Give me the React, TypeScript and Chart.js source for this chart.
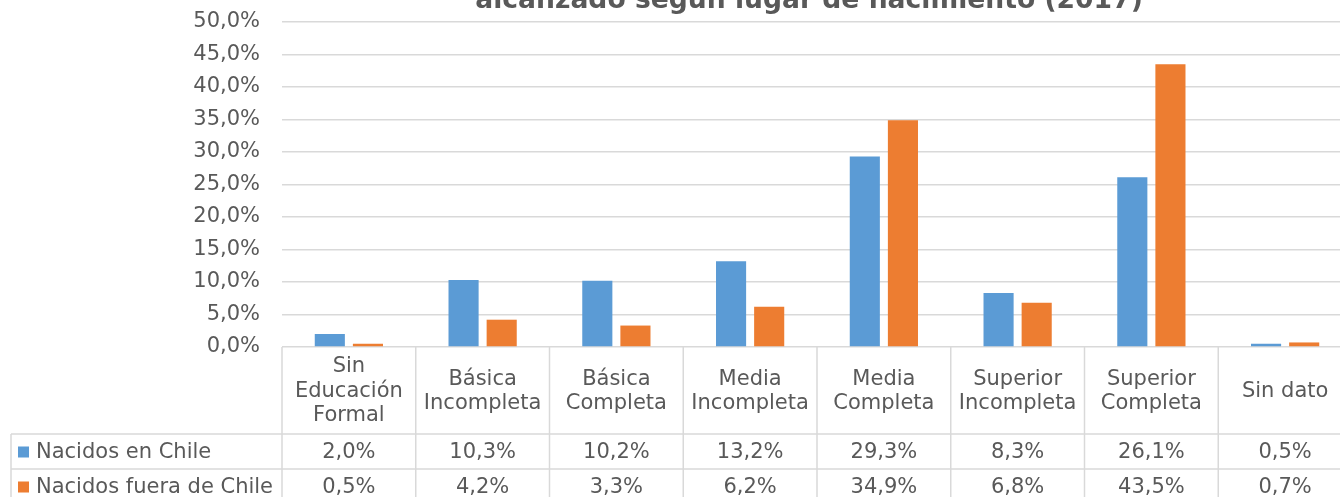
import React, { useEffect, useRef } from "react";
import { Chart, registerables } from "chart.js";

Chart.register(...registerables);

const categories: string[][] = [
  ["Sin", "Educación", "Formal"],
  ["Básica", "Incompleta"],
  ["Básica", "Completa"],
  ["Media", "Incompleta"],
  ["Media", "Completa"],
  ["Superior", "Incompleta"],
  ["Superior", "Completa"],
  ["Sin dato"],
];

const seriesNames = ["Nacidos en Chile", "Nacidos fuera de Chile"];
const nacidosChile = [2.0, 10.3, 10.2, 13.2, 29.3, 8.3, 26.1, 0.5];
const nacidosFuera = [0.5, 4.2, 3.3, 6.2, 34.9, 6.8, 43.5, 0.7];
const titleText = "alcanzado según lugar de nacimiento (2017)";

const BLUE = "#5B9BD5";
const ORANGE = "#ED7D31";
const TEXT = "#595959";
const GRID = "#d9d9d9";
const FONT = '"DejaVu Sans", Verdana, sans-serif';

const fmt = (v: number) => v.toFixed(1).replace(".", ",") + "%";

const tablePlugin = {
  id: "dataTable",
  afterDraw(chart: any) {
    const ctx = chart.ctx;
    const area = chart.chartArea;
    const x = chart.scales.x;
    const n = categories.length;
    const colW = (area.right - area.left) / n;
    const headTop = area.bottom;
    const headBottom = headTop + 87;
    const rowH = 35;
    const tableLeft = 11;
    const rowsBottom = headBottom + rowH * 2;

    ctx.save();
    ctx.strokeStyle = GRID;
    ctx.lineWidth = 1.5;
    for (let i = 0; i <= n; i++) {
      const xx = area.left + i * colW;
      ctx.beginPath();
      ctx.moveTo(xx, headTop);
      ctx.lineTo(xx, rowsBottom);
      ctx.stroke();
    }
    ctx.beginPath();
    ctx.moveTo(tableLeft, headBottom);
    ctx.lineTo(tableLeft, rowsBottom);
    ctx.stroke();
    for (let r = 0; r <= 2; r++) {
      const yy = headBottom + r * rowH;
      ctx.beginPath();
      ctx.moveTo(tableLeft, yy);
      ctx.lineTo(area.right, yy);
      ctx.stroke();
    }

    ctx.fillStyle = TEXT;
    ctx.font = `21px ${FONT}`;
    ctx.textAlign = "center";
    ctx.textBaseline = "middle";
    const lh = 24.5;
    const headMid = (headTop + headBottom) / 2 + 1;
    categories.forEach((lines, i) => {
      const cx = x.getPixelForValue(i);
      const startY = headMid - ((lines.length - 1) * lh) / 2;
      lines.forEach((l, j) => ctx.fillText(l, cx, startY + j * lh));
    });

    const seriesVals = [nacidosChile, nacidosFuera];
    const colors = [BLUE, ORANGE];
    seriesVals.forEach((vals, r) => {
      const cy = headBottom + r * rowH + rowH / 2 + 1;
      ctx.textAlign = "center";
      vals.forEach((v, i) => {
        ctx.fillText(fmt(v), x.getPixelForValue(i), cy);
      });
      ctx.fillStyle = colors[r];
      ctx.fillRect(18, cy - 6, 11, 11);
      ctx.fillStyle = TEXT;
      ctx.textAlign = "left";
      ctx.fillText(seriesNames[r], 36, cy);
    });

    ctx.font = `bold 26.6px ${FONT}`;
    ctx.textAlign = "center";
    ctx.textBaseline = "alphabetic";
    ctx.fillText(titleText, 809, 8);
    ctx.restore();
  },
};

export default function App() {
  const ref = useRef<HTMLCanvasElement | null>(null);
  useEffect(() => {
    if (!ref.current) return;
    const chart = new Chart(ref.current, {
      type: "bar",
      data: {
        labels: categories.map((c) => c.join(" ")),
        datasets: [
          {
            label: seriesNames[0],
            data: nacidosChile,
            backgroundColor: BLUE,
            categoryPercentage: 0.57,
            barPercentage: 0.79,
          },
          {
            label: seriesNames[1],
            data: nacidosFuera,
            backgroundColor: ORANGE,
            categoryPercentage: 0.57,
            barPercentage: 0.79,
          },
        ],
      },
      options: {
        animation: false,
        responsive: false,
        devicePixelRatio: 1,
        layout: { padding: { top: 22, bottom: 150, left: 0, right: 0 } },
        plugins: {
          legend: { display: false },
          tooltip: { enabled: false },
          title: { display: false },
        },
        scales: {
          x: {
            display: false,
          },
          y: {
            min: 0,
            max: 50,
            afterFit: (s: any) => {
              s.width = 282;
            },
            border: { display: false },
            grid: {
              color: GRID,
              lineWidth: 1.5,
              drawTicks: true,
              tickLength: 22,
              tickColor: "rgba(0,0,0,0)",
            },
            ticks: {
              stepSize: 5,
              padding: 0,
              color: TEXT,
              font: { family: FONT, size: 21 },
              callback: (v: any) => fmt(Number(v)),
            },
          },
        },
      },
      plugins: [tablePlugin],
    });
    return () => chart.destroy();
  }, []);
  return (
    <div
      style={{
        position: "fixed",
        left: 0,
        top: 0,
        width: 1340,
        height: 497,
        overflow: "hidden",
        background: "#fff",
      }}
    >
      <canvas ref={ref} width={1352} height={497} style={{ display: "block" }} />
    </div>
  );
}
